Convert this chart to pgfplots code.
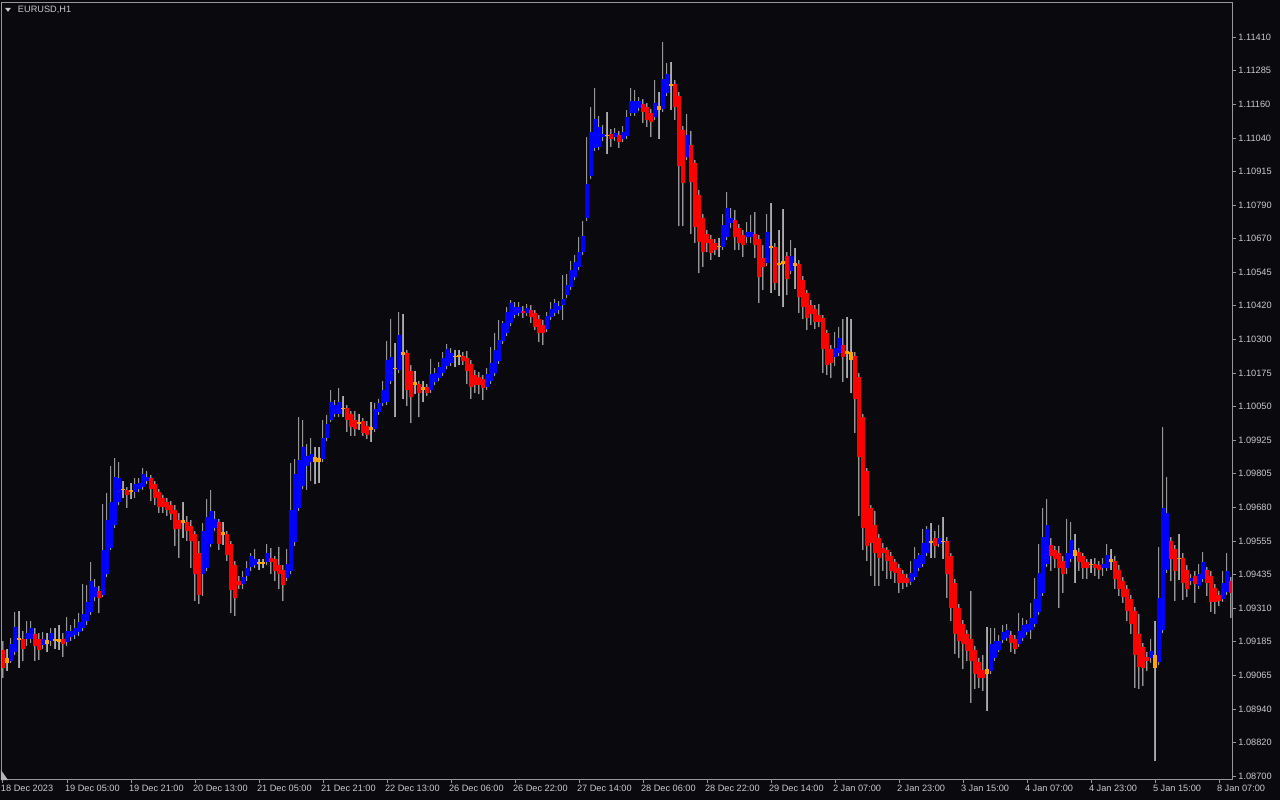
\documentclass[border=0pt]{standalone}
\usepackage{fontspec}
\setmainfont{Liberation Sans}
\usepackage{pgfplots}
\usepackage{pgfplotstable}
\pgfplotsset{compat=1.18}

\definecolor{bgc}{RGB}{10,10,14}
\definecolor{framec}{RGB}{150,150,155}
\definecolor{labc}{RGB}{200,200,206}
\definecolor{wickc}{RGB}{150,150,150}

% heiken ashi bars: k = bar index (1 h), c = 0 up / 1 down / 2 doji
% bl, bh = body low/high, lo, hi = bar low/high
\pgfplotstableread{
k c bl bh lo hi
0 1 1.09098 1.09164 1.09061 1.09197
1 2 1.09117 1.09132 1.09087 1.09168
2 0 1.09124 1.09186 1.09117 1.09208
3 0 1.09154 1.09249 1.09143 1.09303
4 2 1.09201 1.09208 1.09098 1.09307
5 1 1.09168 1.09205 1.09124 1.09234
6 0 1.09205 1.09227 1.09179 1.09271
7 0 1.09205 1.09242 1.09190 1.09271
8 1 1.09179 1.09223 1.09124 1.09242
9 1 1.09164 1.09205 1.09128 1.09227
10 0 1.09182 1.09205 1.09168 1.09230
11 2 1.09186 1.09201 1.09157 1.09227
12 0 1.09197 1.09227 1.09179 1.09242
13 2 1.09197 1.09205 1.09168 1.09242
14 2 1.09193 1.09205 1.09164 1.09253
15 1 1.09186 1.09205 1.09139 1.09227
16 0 1.09193 1.09234 1.09179 1.09285
17 0 1.09212 1.09234 1.09197 1.09256
18 0 1.09219 1.09245 1.09205 1.09278
19 0 1.09230 1.09267 1.09216 1.09300
20 0 1.09245 1.09296 1.09234 1.09406
21 0 1.09271 1.09340 1.09256 1.09402
22 0 1.09303 1.09417 1.09292 1.09487
23 0 1.09359 1.09395 1.09344 1.09425
24 1 1.09355 1.09381 1.09300 1.09399
25 0 1.09366 1.09528 1.09359 1.09700
26 0 1.09443 1.09638 1.09432 1.09737
27 0 1.09538 1.09704 1.09528 1.09836
28 0 1.09620 1.09799 1.09609 1.09866
29 0 1.09707 1.09792 1.09693 1.09854
30 2 1.09748 1.09755 1.09719 1.09784
31 1 1.09733 1.09751 1.09685 1.09759
32 2 1.09741 1.09751 1.09715 1.09777
33 0 1.09741 1.09773 1.09722 1.09792
34 0 1.09755 1.09777 1.09741 1.09795
35 0 1.09762 1.09810 1.09751 1.09832
36 0 1.09784 1.09799 1.09770 1.09821
37 1 1.09755 1.09795 1.09711 1.09803
38 1 1.09722 1.09773 1.09693 1.09784
39 1 1.09689 1.09741 1.09667 1.09755
40 1 1.09689 1.09719 1.09667 1.09730
41 1 1.09678 1.09704 1.09656 1.09719
42 1 1.09660 1.09693 1.09638 1.09711
43 1 1.09605 1.09678 1.09546 1.09693
44 1 1.09605 1.09641 1.09502 1.09664
45 2 1.09627 1.09638 1.09575 1.09707
46 1 1.09601 1.09631 1.09564 1.09656
47 1 1.09564 1.09616 1.09462 1.09638
48 1 1.09443 1.09590 1.09344 1.09601
49 1 1.09366 1.09520 1.09333 1.09564
50 0 1.09443 1.09601 1.09362 1.09627
51 0 1.09465 1.09649 1.09454 1.09715
52 0 1.09553 1.09674 1.09542 1.09748
53 0 1.09612 1.09645 1.09601 1.09674
54 1 1.09553 1.09631 1.09528 1.09645
55 2 1.09586 1.09594 1.09549 1.09634
56 1 1.09513 1.09590 1.09491 1.09601
57 1 1.09384 1.09553 1.09300 1.09564
58 1 1.09355 1.09473 1.09289 1.09491
59 1 1.09402 1.09417 1.09388 1.09436
60 0 1.09406 1.09432 1.09388 1.09454
61 0 1.09436 1.09462 1.09417 1.09491
62 0 1.09469 1.09506 1.09454 1.09517
63 0 1.09473 1.09498 1.09462 1.09535
64 2 1.09480 1.09484 1.09458 1.09495
65 2 1.09480 1.09484 1.09462 1.09495
66 0 1.09484 1.09517 1.09473 1.09553
67 1 1.09484 1.09502 1.09443 1.09538
68 1 1.09451 1.09495 1.09417 1.09509
69 1 1.09440 1.09473 1.09388 1.09542
70 1 1.09402 1.09458 1.09344 1.09473
71 0 1.09428 1.09480 1.09417 1.09535
72 0 1.09451 1.09678 1.09440 1.09847
73 0 1.09560 1.09810 1.09546 1.09862
74 0 1.09685 1.09858 1.09674 1.10019
75 0 1.09766 1.09909 1.09755 1.10005
76 0 1.09836 1.09876 1.09748 1.09920
77 0 1.09851 1.09880 1.09784 1.09942
78 2 1.09851 1.09869 1.09773 1.09906
79 2 1.09851 1.09866 1.09777 1.09906
80 0 1.09862 1.09942 1.09851 1.10005
81 0 1.09942 1.09990 1.09931 1.10023
82 0 1.10008 1.10071 1.09998 1.10115
83 0 1.10030 1.10063 1.10019 1.10078
84 0 1.10030 1.10074 1.10019 1.10122
85 2 1.10045 1.10052 1.10019 1.10093
86 1 1.10008 1.10052 1.09964 1.10060
87 1 1.09979 1.10030 1.09946 1.10041
88 1 1.09975 1.10008 1.09946 1.10041
89 2 1.09990 1.09998 1.09971 1.10027
90 1 1.09960 1.10001 1.09949 1.10012
91 1 1.09953 1.09986 1.09935 1.10001
92 2 1.09971 1.09982 1.09927 1.10071
93 0 1.09975 1.10045 1.09964 1.10067
94 0 1.10034 1.10067 1.10023 1.10085
95 0 1.10067 1.10115 1.10056 1.10151
96 0 1.10071 1.10225 1.10060 1.10294
97 0 1.10148 1.10236 1.10137 1.10375
98 2 1.10192 1.10196 1.10016 1.10287
99 0 1.10188 1.10317 1.10177 1.10401
100 2 1.10244 1.10255 1.10082 1.10393
101 1 1.10115 1.10251 1.10056 1.10262
102 1 1.10089 1.10185 1.09994 1.10207
103 2 1.10133 1.10144 1.10100 1.10185
104 1 1.10107 1.10140 1.10016 1.10151
105 2 1.10118 1.10126 1.10071 1.10151
106 1 1.10107 1.10126 1.10093 1.10137
107 0 1.10115 1.10174 1.10104 1.10229
108 0 1.10144 1.10177 1.10133 1.10196
109 0 1.10159 1.10199 1.10148 1.10218
110 0 1.10177 1.10232 1.10166 1.10255
111 0 1.10203 1.10265 1.10192 1.10283
112 0 1.10214 1.10251 1.10203 1.10269
113 2 1.10236 1.10240 1.10199 1.10262
114 2 1.10236 1.10244 1.10207 1.10262
115 1 1.10221 1.10240 1.10207 1.10255
116 1 1.10185 1.10232 1.10140 1.10258
117 1 1.10126 1.10210 1.10085 1.10225
118 1 1.10133 1.10170 1.10107 1.10188
119 1 1.10133 1.10163 1.10100 1.10181
120 1 1.10122 1.10155 1.10078 1.10170
121 0 1.10129 1.10174 1.10118 1.10196
122 0 1.10151 1.10214 1.10140 1.10273
123 0 1.10177 1.10262 1.10166 1.10324
124 0 1.10221 1.10298 1.10210 1.10372
125 0 1.10294 1.10361 1.10283 1.10368
126 0 1.10324 1.10401 1.10313 1.10419
127 0 1.10361 1.10434 1.10350 1.10445
128 0 1.10390 1.10419 1.10379 1.10438
129 0 1.10397 1.10419 1.10386 1.10438
130 1 1.10397 1.10405 1.10379 1.10423
131 0 1.10397 1.10416 1.10386 1.10430
132 1 1.10383 1.10408 1.10361 1.10427
133 1 1.10346 1.10397 1.10335 1.10408
134 1 1.10324 1.10375 1.10291 1.10390
135 1 1.10324 1.10353 1.10280 1.10372
136 0 1.10339 1.10386 1.10328 1.10401
137 0 1.10383 1.10412 1.10372 1.10438
138 0 1.10397 1.10434 1.10386 1.10449
139 0 1.10408 1.10423 1.10393 1.10441
140 0 1.10427 1.10449 1.10372 1.10537
141 0 1.10463 1.10500 1.10452 1.10540
142 0 1.10493 1.10555 1.10482 1.10588
143 0 1.10529 1.10584 1.10518 1.10610
144 0 1.10566 1.10621 1.10555 1.10676
145 0 1.10621 1.10680 1.10610 1.10735
146 0 1.10746 1.10871 1.10735 1.11043
147 0 1.10900 1.11062 1.10889 1.11153
148 0 1.11003 1.11109 1.10992 1.11223
149 0 1.11007 1.11080 1.10996 1.11120
150 0 1.11043 1.11054 1.11029 1.11087
151 2 1.11047 1.11051 1.10981 1.11135
152 1 1.11036 1.11054 1.11007 1.11073
153 0 1.11043 1.11058 1.11029 1.11076
154 1 1.11025 1.11051 1.11003 1.11065
155 0 1.11036 1.11062 1.11025 1.11084
156 0 1.11047 1.11117 1.11036 1.11142
157 0 1.11131 1.11175 1.11120 1.11223
158 0 1.11131 1.11175 1.11120 1.11216
159 0 1.11150 1.11175 1.11139 1.11190
160 1 1.11135 1.11164 1.11095 1.11183
161 1 1.11106 1.11153 1.11080 1.11168
162 1 1.11098 1.11131 1.11043 1.11146
163 0 1.11117 1.11168 1.11106 1.11252
164 2 1.11142 1.11157 1.11036 1.11208
165 0 1.11146 1.11256 1.11135 1.11392
166 0 1.11205 1.11274 1.11194 1.11315
167 2 1.11230 1.11238 1.11142 1.11318
168 1 1.11153 1.11238 1.11106 1.11252
169 1 1.10937 1.11194 1.10717 1.11208
170 1 1.10874 1.11069 1.10717 1.11084
171 0 1.10970 1.11051 1.10959 1.11128
172 1 1.10878 1.11014 1.10687 1.11065
173 1 1.10713 1.10948 1.10654 1.10959
174 1 1.10658 1.10830 1.10544 1.10849
175 1 1.10621 1.10746 1.10566 1.10761
176 1 1.10654 1.10687 1.10621 1.10702
177 1 1.10618 1.10669 1.10592 1.10684
178 1 1.10629 1.10654 1.10610 1.10669
179 2 1.10640 1.10643 1.10603 1.10673
180 0 1.10640 1.10720 1.10629 1.10761
181 0 1.10676 1.10783 1.10665 1.10841
182 0 1.10728 1.10746 1.10709 1.10783
183 1 1.10676 1.10739 1.10629 1.10775
184 1 1.10654 1.10709 1.10629 1.10724
185 1 1.10647 1.10684 1.10603 1.10702
186 0 1.10676 1.10695 1.10654 1.10731
187 0 1.10676 1.10695 1.10654 1.10757
188 1 1.10647 1.10687 1.10599 1.10768
189 1 1.10529 1.10669 1.10434 1.10684
190 1 1.10566 1.10599 1.10482 1.10647
191 0 1.10581 1.10695 1.10570 1.10761
192 2 1.10636 1.10643 1.10471 1.10801
193 1 1.10507 1.10640 1.10482 1.10654
194 2 1.10574 1.10581 1.10460 1.10702
195 2 1.10577 1.10588 1.10419 1.10779
196 1 1.10522 1.10607 1.10463 1.10621
197 0 1.10551 1.10607 1.10540 1.10665
198 2 1.10570 1.10581 1.10485 1.10636
199 1 1.10456 1.10577 1.10397 1.10592
200 1 1.10419 1.10518 1.10375 1.10533
201 1 1.10379 1.10471 1.10335 1.10482
202 1 1.10393 1.10427 1.10353 1.10445
203 1 1.10364 1.10412 1.10339 1.10427
204 1 1.10364 1.10390 1.10346 1.10430
205 1 1.10265 1.10379 1.10177 1.10390
206 1 1.10207 1.10324 1.10170 1.10335
207 1 1.10214 1.10265 1.10159 1.10280
208 0 1.10236 1.10269 1.10203 1.10328
209 0 1.10251 1.10306 1.10240 1.10346
210 1 1.10236 1.10280 1.10144 1.10375
211 2 1.10247 1.10258 1.10159 1.10383
212 2 1.10225 1.10255 1.10104 1.10375
213 1 1.10085 1.10240 1.09960 1.10255
214 1 1.09869 1.10163 1.09656 1.10177
215 1 1.09612 1.10016 1.09528 1.10030
216 1 1.09546 1.09818 1.09491 1.09832
217 1 1.09557 1.09682 1.09436 1.09696
218 1 1.09517 1.09623 1.09399 1.09674
219 1 1.09502 1.09575 1.09399 1.09590
220 1 1.09517 1.09538 1.09454 1.09557
221 1 1.09491 1.09528 1.09425 1.09542
222 1 1.09454 1.09509 1.09425 1.09524
223 1 1.09447 1.09484 1.09410 1.09498
224 1 1.09410 1.09465 1.09373 1.09480
225 1 1.09410 1.09443 1.09388 1.09458
226 1 1.09410 1.09428 1.09395 1.09443
227 0 1.09414 1.09447 1.09402 1.09491
228 0 1.09432 1.09495 1.09421 1.09542
229 0 1.09462 1.09513 1.09451 1.09520
230 0 1.09480 1.09557 1.09469 1.09605
231 0 1.09517 1.09605 1.09506 1.09616
232 2 1.09557 1.09564 1.09502 1.09627
233 1 1.09546 1.09572 1.09502 1.09601
234 0 1.09553 1.09575 1.09542 1.09620
235 2 1.09560 1.09564 1.09498 1.09649
236 1 1.09443 1.09564 1.09355 1.09579
237 1 1.09318 1.09506 1.09271 1.09520
238 1 1.09223 1.09410 1.09150 1.09425
239 1 1.09197 1.09318 1.09135 1.09333
240 1 1.09186 1.09260 1.09095 1.09274
241 1 1.09161 1.09223 1.09124 1.09238
242 1 1.09124 1.09205 1.08970 1.09381
243 1 1.09076 1.09164 1.09021 1.09179
244 1 1.09061 1.09120 1.09025 1.09135
245 1 1.09061 1.09091 1.09014 1.09143
246 2 1.09076 1.09095 1.08940 1.09249
247 0 1.09087 1.09186 1.09076 1.09242
248 0 1.09135 1.09197 1.09124 1.09242
249 0 1.09164 1.09197 1.09154 1.09219
250 0 1.09201 1.09230 1.09190 1.09253
251 0 1.09208 1.09238 1.09197 1.09260
252 1 1.09190 1.09219 1.09154 1.09234
253 1 1.09168 1.09205 1.09150 1.09219
254 0 1.09186 1.09234 1.09175 1.09300
255 0 1.09208 1.09256 1.09197 1.09282
256 0 1.09230 1.09260 1.09219 1.09274
257 0 1.09238 1.09282 1.09205 1.09337
258 0 1.09260 1.09351 1.09249 1.09428
259 0 1.09303 1.09447 1.09292 1.09553
260 0 1.09373 1.09579 1.09362 1.09685
261 0 1.09480 1.09620 1.09469 1.09715
262 1 1.09509 1.09549 1.09454 1.09572
263 1 1.09495 1.09531 1.09462 1.09546
264 1 1.09462 1.09517 1.09318 1.09546
265 1 1.09443 1.09491 1.09373 1.09506
266 0 1.09465 1.09520 1.09443 1.09645
267 0 1.09495 1.09568 1.09484 1.09631
268 2 1.09509 1.09531 1.09410 1.09590
269 1 1.09484 1.09524 1.09454 1.09538
270 1 1.09465 1.09506 1.09425 1.09520
271 1 1.09462 1.09484 1.09425 1.09498
272 2 1.09473 1.09480 1.09447 1.09495
273 1 1.09462 1.09480 1.09436 1.09502
274 1 1.09458 1.09476 1.09425 1.09491
275 0 1.09465 1.09480 1.09436 1.09502
276 0 1.09465 1.09513 1.09454 1.09553
277 2 1.09487 1.09495 1.09458 1.09535
278 1 1.09425 1.09491 1.09388 1.09506
279 1 1.09388 1.09458 1.09362 1.09473
280 1 1.09359 1.09417 1.09337 1.09432
281 1 1.09307 1.09388 1.09271 1.09402
282 1 1.09260 1.09351 1.09223 1.09366
283 1 1.09143 1.09307 1.09025 1.09322
284 1 1.09102 1.09223 1.09021 1.09296
285 1 1.09098 1.09175 1.09032 1.09190
286 1 1.09124 1.09139 1.09087 1.09154
287 0 1.09132 1.09161 1.09117 1.09205
288 2 1.09098 1.09146 1.08757 1.09271
289 0 1.09120 1.09355 1.09109 1.09542
290 0 1.09238 1.09685 1.09227 1.09979
291 0 1.09458 1.09664 1.09447 1.09799
292 1 1.09495 1.09564 1.09417 1.09579
293 1 1.09454 1.09535 1.09344 1.09549
294 2 1.09498 1.09502 1.09421 1.09590
295 1 1.09410 1.09502 1.09348 1.09517
296 1 1.09388 1.09458 1.09359 1.09473
297 0 1.09417 1.09428 1.09402 1.09443
298 1 1.09406 1.09436 1.09337 1.09451
299 0 1.09399 1.09443 1.09388 1.09480
300 0 1.09425 1.09484 1.09414 1.09524
301 1 1.09410 1.09458 1.09362 1.09469
302 1 1.09340 1.09436 1.09303 1.09451
303 1 1.09340 1.09392 1.09296 1.09406
304 1 1.09344 1.09366 1.09326 1.09381
305 0 1.09351 1.09410 1.09340 1.09451
306 0 1.09377 1.09451 1.09366 1.09517
307 1 1.09373 1.09417 1.09282 1.09432
}\bars

\begin{document}
\begin{tikzpicture}
\fill[bgc] (-1pt,-10.5pt) rectangle (639pt,389.5pt);
\begin{axis}[
    at={(0,0)}, anchor=south west,
    scale only axis,
    width=615pt, height=388pt,
    xmin=-0.25, xmax=307.25,
    ymin=1.08690, ymax=1.11535,
    axis background/.style={fill=bgc},
    axis line style={draw=framec, line width=0.5pt},
    tick style={draw=framec, line width=0.5pt},
    tick align=outside,
    major tick length=2pt,
    xtick pos=bottom, ytick pos=right,
    yticklabel pos=right,
    xtick={0,16,...,304},
    xticklabels={18 Dec 2023,19 Dec 05:00,19 Dec 21:00,20 Dec 13:00,21 Dec 05:00,21 Dec 21:00,22 Dec 13:00,26 Dec 06:00,26 Dec 22:00,27 Dec 14:00,28 Dec 06:00,28 Dec 22:00,29 Dec 14:00,2 Jan 07:00,2 Jan 23:00,3 Jan 15:00,4 Jan 07:00,4 Jan 23:00,5 Jan 15:00,8 Jan 07:00},
    ytick={1.08700,1.08823,1.08946,1.09070,1.09193,1.09316,1.09439,1.09562,1.09685,1.09809,1.09932,1.10055,1.10178,1.10301,1.10425,1.10548,1.10671,1.10794,1.10917,1.11040,1.11164,1.11287,1.11410},
    yticklabels={1.08700,1.08820,1.08940,1.09065,1.09185,1.09310,1.09435,1.09555,1.09680,1.09805,1.09925,1.10050,1.10175,1.10300,1.10420,1.10545,1.10670,1.10790,1.10915,1.11040,1.11160,1.11285,1.11410},
    ticklabel style={font=\fontsize{4.6}{5}\selectfont, text=labc},
    xticklabel style={anchor=north west, inner sep=0pt, xshift=-1.2pt, yshift=-1pt},
    yticklabel style={anchor=west, inner sep=0pt, xshift=1pt},
    colormap={hab}{rgb255=(0,0,255) rgb255=(255,0,0) rgb255=(255,165,0)},
    point meta min=0, point meta max=2,
    clip=true,
]
% grey price wicks
\addplot[quiver={u=0, v=\thisrow{hi}-\thisrow{lo}}, draw=wickc, line width=0.5pt]
    table[x expr=\thisrow{k}-0.2, y=lo] {\bars};
% coloured wicks
\addplot[quiver={u=0, v=\thisrow{hi}-\thisrow{lo}, colored={mapped color}}, line width=0.4pt, point meta=explicit]
    table[x expr=\thisrow{k}+0.2, y=lo, meta=c] {\bars};
% bodies
\addplot[quiver={u=0, v=\thisrow{bh}-\thisrow{bl}, colored={mapped color}}, line width=2pt, point meta=explicit]
    table[x=k, y=bl, meta=c] {\bars};
\end{axis}
% chart caption
\fill[labc] (1.5pt,385.6pt) -- (4.5pt,385.6pt) -- (3pt,383.6pt) -- cycle;
\node[anchor=west, inner sep=0pt, text=labc, font=\fontsize{4.6}{5}\selectfont] at (7.8pt,384.6pt) {EURUSD,H1};
\fill[framec!70] (-0.5pt,-0.5pt) -- (-0.5pt,4.5pt) -- (3pt,-0.5pt) -- cycle;
\pgfresetboundingbox
\path[use as bounding box] (-1pt,-10.5pt) rectangle (639pt,389.5pt);
\end{tikzpicture}
\end{document}
